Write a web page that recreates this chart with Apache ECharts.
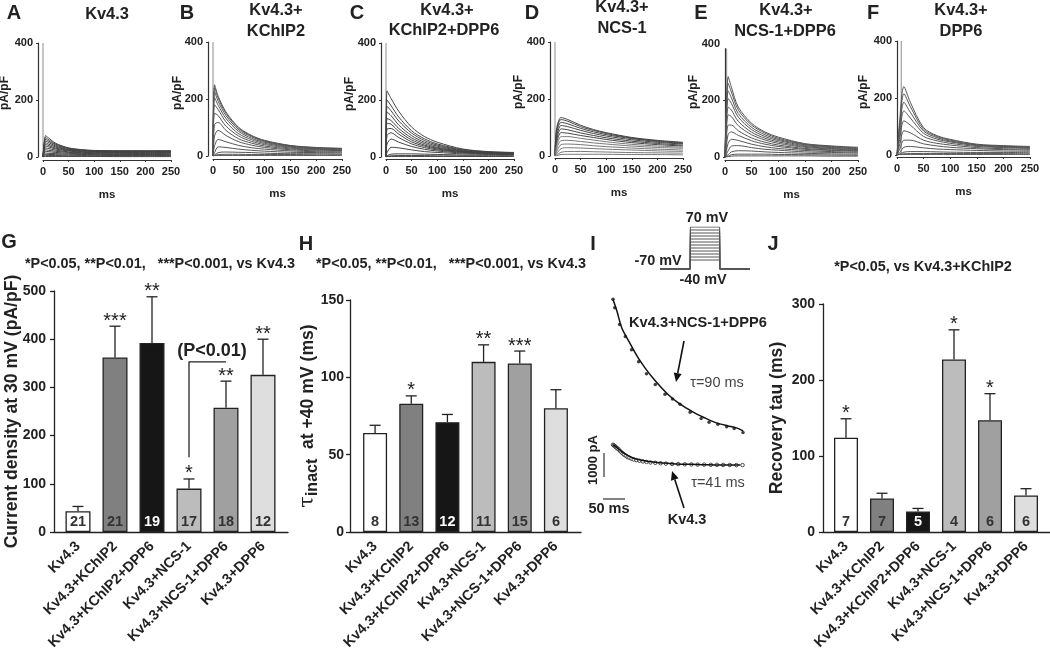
<!DOCTYPE html>
<html>
<head>
<meta charset="utf-8">
<title>Kv4.3 currents</title>
<style>
  html, body { margin: 0; padding: 0; background: #fff; }
  #main { width: 1050px; height: 651px; }
</style>
<script src="https://cdn.jsdelivr.net/npm/echarts@6/dist/echarts.min.js"></script>
</head>
<body>
<div id="main"></div>
<script>
// panel A-F current traces, pA/pF
var timesA = [0, 5, 10, 25, 50, 75, 100, 150, 200, 250];
var tracesA = [
  [0, 75, 68, 48, 32, 26, 23, 22, 22, 22],
  [0, 68, 62, 45, 31, 25, 22, 21, 21, 21],
  [0, 62, 57, 42, 29, 24, 21, 20, 20, 20],
  [0, 56, 52, 38, 27, 22, 20, 19, 19, 19],
  [0, 50, 46, 35, 25, 21, 19, 18, 17, 17],
  [0, 44, 41, 31, 23, 19, 17, 16, 16, 16],
  [0, 38, 36, 28, 21, 17, 15, 15, 14, 14],
  [0, 32, 30, 24, 18, 15, 14, 13, 12, 12],
  [0, 26, 24, 20, 16, 13, 12, 11, 10, 10],
  [0, 20, 19, 16, 13, 11, 10, 9, 9, 8],
  [0, 14, 13, 12, 10, 9, 8, 7, 7, 6],
  [0, 9, 9, 8, 7, 6, 6, 5, 5, 5],
  [0, 5, 5, 5, 4, 4, 3, 3, 3, 3],
  [0, 2, 2, 2, 2, 2, 2, 1, 1, 1]
];
var timesB = [0, 3, 10, 25, 50, 75, 100, 150, 200, 250];
var tracesB = [
  [0, 250, 210, 155, 100, 72, 55, 37, 30, 27],
  [0, 240, 203, 150, 97, 70, 53, 36, 29, 26],
  [0, 225, 192, 142, 92, 67, 51, 35, 28, 25],
  [0, 205, 178, 132, 86, 62, 48, 33, 27, 24],
  [0, 180, 163, 120, 78, 57, 44, 31, 25, 22],
  [0, 150, 142, 105, 70, 51, 40, 28, 23, 21],
  [0, 110, 118, 90, 60, 45, 35, 25, 21, 19],
  [0, 70, 90, 72, 50, 38, 30, 22, 18, 17],
  [0, 35, 58, 50, 37, 29, 24, 18, 15, 14],
  [0, 12, 32, 30, 24, 20, 17, 13, 12, 11],
  [0, 4, 12, 14, 13, 12, 10, 8, 8, 7],
  [0, 2, 5, 6, 6, 5, 5, 5, 4, 4],
  [0, 1, 2, 2, 2, 2, 2, 2, 2, 2]
];
var timesC = [0, 2, 10, 25, 50, 75, 100, 150, 200, 250];
var tracesC = [
  [0, 232, 205, 160, 105, 72, 52, 28, 19, 16],
  [0, 200, 180, 140, 92, 64, 46, 26, 18, 15],
  [0, 178, 162, 126, 84, 58, 42, 24, 17, 14],
  [0, 158, 145, 112, 75, 52, 38, 22, 16, 13],
  [0, 135, 128, 100, 67, 47, 34, 20, 15, 13],
  [0, 118, 115, 90, 60, 42, 31, 19, 14, 12],
  [0, 98, 100, 80, 53, 38, 28, 18, 13, 11],
  [0, 75, 85, 68, 46, 33, 25, 16, 12, 10],
  [0, 45, 63, 52, 37, 27, 21, 14, 11, 9],
  [0, 15, 34, 32, 25, 19, 16, 11, 9, 8],
  [0, 4, 10, 11, 11, 10, 9, 7, 6, 6],
  [0, 2, 4, 5, 5, 5, 4, 4, 3, 3],
  [0, 1, 2, 2, 2, 2, 2, 2, 2, 2]
];
var timesD = [0, 3, 12, 25, 50, 75, 100, 150, 200, 250];
var tracesD = [
  [0, 95, 135, 128, 108, 93, 82, 65, 55, 48],
  [0, 88, 128, 122, 103, 90, 79, 63, 53, 46],
  [0, 78, 118, 113, 97, 85, 75, 61, 51, 44],
  [0, 66, 107, 103, 90, 79, 70, 57, 48, 42],
  [0, 55, 95, 92, 81, 72, 64, 52, 44, 38],
  [0, 44, 82, 80, 72, 65, 58, 47, 40, 35],
  [0, 33, 68, 68, 62, 56, 50, 41, 35, 31],
  [0, 24, 54, 55, 51, 46, 42, 35, 30, 27],
  [0, 15, 40, 42, 40, 36, 33, 28, 24, 21],
  [0, 8, 26, 29, 28, 26, 24, 21, 18, 16],
  [0, 4, 13, 16, 16, 15, 14, 12, 11, 10],
  [0, 1, 5, 6, 6, 6, 6, 5, 5, 4]
];
var timesE = [0, 6, 12, 25, 50, 75, 100, 150, 200, 250];
var tracesE = [
  [0, 282, 245, 175, 118, 88, 70, 47, 39, 34],
  [0, 258, 228, 165, 112, 84, 66, 45, 37, 32],
  [0, 232, 208, 152, 104, 78, 62, 43, 35, 30],
  [0, 205, 188, 140, 96, 72, 58, 40, 33, 28],
  [0, 175, 165, 125, 87, 66, 53, 37, 30, 26],
  [0, 148, 142, 110, 78, 60, 48, 34, 28, 24],
  [0, 112, 112, 92, 67, 52, 42, 30, 25, 22],
  [0, 80, 88, 76, 57, 45, 37, 27, 23, 20],
  [0, 48, 62, 58, 45, 36, 30, 23, 19, 17],
  [0, 22, 38, 40, 33, 27, 24, 18, 16, 14],
  [0, 8, 18, 22, 21, 18, 16, 13, 11, 10],
  [0, 3, 8, 10, 10, 10, 9, 8, 7, 6],
  [0, 1, 3, 4, 4, 4, 4, 4, 3, 3]
];
var timesF = [0, 5, 13, 25, 50, 75, 100, 150, 200, 250];
var tracesF = [
  [0, 120, 240, 185, 96, 68, 55, 38, 33, 30],
  [0, 105, 215, 170, 90, 65, 52, 36, 31, 28],
  [0, 90, 185, 150, 84, 61, 49, 35, 30, 27],
  [0, 72, 155, 130, 76, 56, 46, 33, 28, 25],
  [0, 55, 120, 105, 65, 50, 41, 30, 26, 23],
  [0, 35, 85, 78, 52, 41, 35, 26, 22, 20],
  [0, 20, 52, 52, 39, 32, 27, 22, 19, 17],
  [0, 8, 27, 30, 25, 21, 19, 16, 14, 13],
  [0, 3, 10, 12, 12, 11, 10, 9, 9, 8],
  [0, 2, 4, 5, 5, 5, 5, 5, 5, 4],
  [0, 1, 2, 2, 2, 2, 2, 2, 2, 2]
];

// bar panels
var groups = ['Kv4.3', 'Kv4.3+KChIP2', 'Kv4.3+KChIP2+DPP6', 'Kv4.3+NCS-1', 'Kv4.3+NCS-1+DPP6', 'Kv4.3+DPP6'];
var barColors = ['#ffffff', '#808080', '#161616', '#bcbcbc', '#a0a0a0', '#dedede'];

var densityMeans = [43, 362, 392, 90, 258, 326];
var densityTops = [53, 427, 488, 110, 313, 400];
var densityN = [21, 21, 19, 17, 18, 12];
var densityStars = ['', '***', '**', '*', '**', '**'];
var densityBracket = [[3, 155], [3, 353], [4, 353]];

var inactMeans = [64, 83, 71, 110, 109, 80];
var inactTops = [69, 88, 76, 121, 117, 92];
var inactN = [8, 13, 12, 11, 15, 6];
var inactStars = ['', '*', '', '**', '***', ''];

var recoveryMeans = [124, 44, 27, 227, 147, 48];
var recoveryTops = [149, 51, 31, 266, 182, 57];
var recoveryN = [7, 7, 5, 4, 6, 6];
var recoveryStars = ['*', '', '', '*', '*', ''];

// panel I
var protocolTimes = [0, 30, 59, 89];
var protocolLevels = [-40, -30, -20, -10, 0, 10, 20, 30, 40, 50, 60, 70];
var holdLevel = -70;

var fitUpperT = [0, 9, 20, 36, 55, 73, 92, 111, 130, 149, 167, 186, 205, 223, 242, 261, 280, 295];
var fitUpperV = [7084, 6598, 5903, 5348, 4723, 4236, 3792, 3403, 3056, 2778, 2570, 2361, 2195, 2042, 1917, 1833, 1750, 1625];
var dotsUpperT = [0, 4, 15, 28, 42, 58, 76, 96, 118, 135, 152, 175, 200, 218, 238, 258, 275, 295];
var dotsUpperV = [7100, 6750, 6050, 5550, 5000, 4500, 4000, 3550, 3150, 2950, 2730, 2400, 2140, 1990, 1900, 1800, 1730, 1560];
var fitLowerT = [0, 9, 20, 32, 47, 62, 85, 115, 145, 176, 206, 244, 289];
var fitLowerV = [1042, 931, 764, 625, 486, 417, 347, 292, 250, 236, 222, 208, 208];
var dotsLowerT = [0, 2, 4, 6, 8, 10, 13, 16, 19, 22, 25, 29, 33, 37, 42, 47, 53, 60, 68, 76, 85, 96, 108, 120, 134, 148, 163, 178, 192, 207, 222, 236, 250, 265, 280, 294];
var dotsLowerV = [1050, 1020, 990, 960, 930, 900, 850, 790, 740, 690, 640, 590, 540, 510, 470, 440, 410, 385, 355, 335, 315, 300, 280, 265, 250, 245, 235, 230, 225, 225, 215, 215, 210, 210, 205, 205];

var FONT = '"Liberation Sans", Arial, sans-serif';
var INK = '#222';

var grids = [], xAxes = [], yAxes = [], series = [], graphics = [];

function addGrid(left, top, width, height, xAxis, yAxis) {
  var idx = grids.length;
  // outerBoundsMode none: rotated labels run off the canvas, grid must not shrink for them
  grids.push({ left: left, top: top, width: width, height: height, containLabel: false, outerBoundsMode: 'none' });
  xAxis.gridIndex = idx;
  yAxis.gridIndex = idx;
  xAxes.push(xAxis);
  yAxes.push(yAxis);
  return idx;
}

function txt(text, x, y, size, weight, opts) {
  opts = opts || {};
  graphics.push({
    type: 'text', x: x, y: y, rotation: opts.rotation || 0, silent: true,
    style: {
      text: text, fontFamily: opts.family || FONT, fontSize: size, fontWeight: weight || 'bold',
      fill: opts.color || INK, textAlign: opts.align || 'center', textVerticalAlign: 'middle'
    }
  });
}

// one current-trace panel
function tracePanel(cfg) {
  var yMax = cfg.yMax || 400;
  var pxTop = cfg.y0 - (cfg.y0 - cfg.y400) * yMax / 400;
  var yLabel = { margin: 5, fontFamily: FONT, fontSize: 11, fontWeight: 'bold', color: INK };
  var yTick = { show: true, length: 2, lineStyle: { color: '#333' } };
  if (cfg.yMax) {
    yLabel.customValues = [0, 200];
    yTick.customValues = [0, 200];
  }
  var idx = addGrid(cfg.x0, pxTop, cfg.x250 - cfg.x0, cfg.y0 - pxTop, {
    type: 'value', min: 0, max: 250, interval: 50, offset: cfg.xOffset,
    name: 'ms', nameLocation: 'middle', nameGap: 29, nameMoveOverlap: false,
    nameTextStyle: { fontFamily: FONT, fontSize: 11.5, fontWeight: 'bold', color: INK },
    splitLine: { show: false },
    axisLine: { show: true, onZero: false, lineStyle: { color: '#333', width: 1.2 } },
    axisTick: { show: true, length: 2, lineStyle: { color: '#333' } },
    axisLabel: { margin: 6, fontFamily: FONT, fontSize: 11, fontWeight: 'bold', color: INK, showMinLabel: true, showMaxLabel: true }
  }, {
    type: 'value', min: 0, max: yMax, interval: 200, offset: cfg.yOffset,
    splitLine: { show: false },
    axisLine: { show: true, onZero: false, lineStyle: { color: '#333', width: 1.2 } },
    axisTick: yTick,
    axisLabel: yLabel
  });
  // capacity transient
  series.push({
    type: 'line', xAxisIndex: idx, yAxisIndex: idx, silent: true, showSymbol: false, animation: false,
    data: [[cfg.transient, 0], [cfg.transient, yMax]],
    lineStyle: { color: '#a0a0a0', width: 1.2 }
  });
  cfg.traces.forEach(function (tr, k) {
    series.push({
      type: 'line', xAxisIndex: idx, yAxisIndex: idx, silent: true, showSymbol: false, animation: false,
      smooth: 0.3,
      data: tr.map(function (v, i) { return [cfg.times[i], v]; }),
      lineStyle: { color: cfg.color(k, cfg.traces.length), width: 1 }
    });
  });
  txt('pA/pF', cfg.labelX, cfg.labelY, 12, 'bold', { rotation: Math.PI / 2 });
}

function barPanel(cfg) {
  var h = cfg.y0 - cfg.yTop;
  // frame axes run wider than the bars
  var frame = addGrid(cfg.axisL, cfg.yTop, cfg.axisR - cfg.axisL, h, {
    type: 'value', min: 0, max: 1, axisLabel: { show: false }, axisTick: { show: false },
    splitLine: { show: false }, axisLine: { show: true, onZero: false, lineStyle: { color: INK, width: 1.3 } }
  }, {
    type: 'value', min: 0, max: cfg.max, interval: cfg.interval,
    name: cfg.name, nameLocation: 'middle', nameGap: cfg.nameGap, nameRotate: 90, nameMoveOverlap: false,
    nameTextStyle: cfg.nameStyle || { fontFamily: FONT, fontSize: 17.6, fontWeight: 'bold', color: INK },
    splitLine: { show: false },
    axisLine: { show: true, onZero: false, lineStyle: { color: INK, width: 1.3 } },
    axisTick: { show: true, length: 4, lineStyle: { color: INK, width: 1.3 } },
    axisLabel: { margin: cfg.labelMargin, fontFamily: FONT, fontSize: 14, fontWeight: 'bold', color: INK }
  });
  series.push({ type: 'line', xAxisIndex: frame, yAxisIndex: frame, data: [], silent: true });

  var idx = addGrid(cfg.barL, cfg.yTop, cfg.barR - cfg.barL, h, {
    type: 'category', data: groups,
    axisLine: { show: false }, axisTick: { show: false },
    axisLabel: { interval: 0, rotate: 45, margin: 12, fontFamily: FONT, fontSize: 14.3, fontWeight: 'bold', color: INK }
  }, {
    type: 'value', min: 0, max: cfg.max, show: false
  });
  series.push({
    type: 'bar', xAxisIndex: idx, yAxisIndex: idx, silent: true, animation: false,
    barWidth: cfg.barWidth,
    data: cfg.means.map(function (v, i) {
      return {
        value: v,
        itemStyle: { color: barColors[i], borderColor: INK, borderWidth: 1.3 },
        label: { color: i === 2 ? '#fff' : '#333' }
      };
    }),
    label: {
      show: true, position: 'insideBottom', distance: 3,
      fontFamily: FONT, fontSize: 14.5, fontWeight: 'bold',
      formatter: function (p) { return String(cfg.n[p.dataIndex]); }
    }
  });
  series.push({
    type: 'custom', xAxisIndex: idx, yAxisIndex: idx, silent: true, animation: false,
    data: cfg.tops.map(function (v, i) { return [i, v, cfg.means[i]]; }),
    encode: { x: 0, y: 1 },
    renderItem: function (params, api) {
      var top = api.coord([api.value(0), api.value(1)]);
      var base = api.coord([api.value(0), api.value(2)]);
      var style = { stroke: INK, lineWidth: 1.3, fill: null };
      var kids = [
        { type: 'line', shape: { x1: top[0], y1: top[1], x2: base[0], y2: base[1] }, style: style },
        { type: 'line', shape: { x1: top[0] - 5.5, y1: top[1], x2: top[0] + 5.5, y2: top[1] }, style: style }
      ];
      var stars = cfg.stars[params.dataIndex];
      if (stars) {
        kids.push({
          type: 'text', x: top[0], y: top[1] - 5,
          style: { text: stars, fontFamily: FONT, fontSize: 20, fill: INK, textAlign: 'center', textVerticalAlign: 'middle' }
        });
      }
      return { type: 'group', children: kids };
    }
  });
  return idx;
}

// ---- top row
function midTraces() { return '#555'; }
function darkTraces() { return '#444'; }
tracePanel({ x0: 43, x250: 171, y400: 43, y0: 157, xOffset: 3, yOffset: 5, times: timesA, traces: tracesA, transient: 0, labelX: 5, labelY: 93, color: darkTraces });
tracePanel({ x0: 213, x250: 342, y400: 42, y0: 156, xOffset: 3, yOffset: 5, times: timesB, traces: tracesB, transient: 0, labelX: 178, labelY: 93, color: midTraces });
tracePanel({ x0: 386, x250: 514, y400: 43, y0: 157, xOffset: 2, yOffset: 5, times: timesC, traces: tracesC, transient: 0, labelX: 350, labelY: 94, color: darkTraces });
tracePanel({ x0: 555, x250: 683, y400: 42, y0: 156, xOffset: 2, yOffset: 5, times: timesD, traces: tracesD, transient: 0, labelX: 519, labelY: 92, color: function (k, n) { return k < n / 2 ? '#444' : '#777'; } });
// the axis of panel E stops short of its 400 label
tracePanel({ x0: 725, x250: 858, y400: 43, y0: 157, yMax: 380, xOffset: 3, yOffset: 0, times: timesE, traces: tracesE, transient: 3, labelX: 694, labelY: 92, color: midTraces });
txt('400', 720, 44, 11, 'bold', { align: 'right' });
tracePanel({ x0: 897, x250: 1030, y400: 41, y0: 155, xOffset: 2, yOffset: 0, times: timesF, traces: tracesF, transient: 8, labelX: 864, labelY: 92, color: midTraces });

// ---- bar charts
var densityIdx = barPanel({
  axisL: 54, axisR: 288, barL: 59.5, barR: 281.5, yTop: 291, y0: 532, max: 500, interval: 100, barWidth: 25, labelMargin: 8,
  name: 'Current density at 30 mV (pA/pF)', nameGap: 33,
  means: densityMeans, tops: densityTops, n: densityN, stars: densityStars
});
series.push({
  type: 'line', xAxisIndex: densityIdx, yAxisIndex: densityIdx, silent: true, showSymbol: false, animation: false,
  data: densityBracket, lineStyle: { color: INK, width: 1.3 }
});

barPanel({
  axisL: 350, axisR: 581, barL: 357, barR: 574, yTop: 300, y0: 532, max: 150, interval: 50, barWidth: 24, labelMargin: 6,
  name: '{t|τ}{s|inact}{r|  at +40 mV (ms)}', nameGap: 29,
  nameStyle: {
    color: INK, fontFamily: FONT, fontWeight: 'bold', fontSize: 17.6,
    rich: {
      t: { fontFamily: '"DejaVu Serif", serif', fontSize: 21, fontWeight: 'normal', color: INK },
      s: { fontFamily: FONT, fontSize: 16, fontWeight: 'bold', color: INK, padding: [10, 0, 0, 0] },
      r: { fontFamily: FONT, fontSize: 17.6, fontWeight: 'bold', color: INK }
    }
  },
  means: inactMeans, tops: inactTops, n: inactN, stars: inactStars
});

barPanel({
  axisL: 823, axisR: 1050, barL: 828, barR: 1044, yTop: 304, y0: 532, max: 300, interval: 100, barWidth: 24, labelMargin: 8,
  name: 'Recovery tau (ms)', nameGap: 37,
  means: recoveryMeans, tops: recoveryTops, n: recoveryN, stars: recoveryStars
});

// ---- panel I, voltage protocol and recovery traces
var protoIdx = addGrid(660, 227, 90, 42,
  { type: 'value', min: 0, max: 89, show: false },
  { type: 'value', min: -70, max: 70, show: false });
protocolLevels.forEach(function (lv) {
  series.push({
    type: 'line', xAxisIndex: protoIdx, yAxisIndex: protoIdx, silent: true, showSymbol: false, animation: false,
    data: [
      [protocolTimes[0], holdLevel], [protocolTimes[1], holdLevel], [protocolTimes[1], lv],
      [protocolTimes[2], lv], [protocolTimes[2], holdLevel], [protocolTimes[3], holdLevel]
    ],
    lineStyle: { color: '#555', width: 1 }
  });
});

var recIdx = addGrid(613, 292, 130, 178,
  { type: 'value', min: 0, max: 295, show: false },
  { type: 'value', min: 0, max: 7400, show: false });
function pairs(a, b) { return a.map(function (v, i) { return [v, b[i]]; }); }
function recLine(xs, ys) {
  series.push({
    type: 'line', xAxisIndex: recIdx, yAxisIndex: recIdx, silent: true, showSymbol: false, animation: false,
    smooth: 0.3, data: pairs(xs, ys), lineStyle: { color: '#111', width: 1.5 }
  });
}
recLine(fitUpperT, fitUpperV);
recLine(fitLowerT, fitLowerV);
series.push({
  type: 'scatter', xAxisIndex: recIdx, yAxisIndex: recIdx, silent: true, animation: false,
  data: pairs(dotsUpperT, dotsUpperV), symbolSize: 3.5, itemStyle: { color: '#111' }
});
series.push({
  type: 'scatter', xAxisIndex: recIdx, yAxisIndex: recIdx, silent: true, animation: false,
  data: pairs(dotsLowerT, dotsLowerV), symbolSize: 3.5,
  itemStyle: { color: '#fff', borderColor: '#222', borderWidth: 1 }
});

function arrow(x1, y1, x2, y2) {
  var a = Math.atan2(y2 - y1, x2 - x1), L = 9, W = 4;
  var bx = x2 - L * Math.cos(a), by = y2 - L * Math.sin(a);
  graphics.push({ type: 'line', silent: true, shape: { x1: x1, y1: y1, x2: bx, y2: by }, style: { stroke: '#111', lineWidth: 1.6 } });
  graphics.push({
    type: 'polygon', silent: true,
    shape: { points: [[x2, y2], [bx - W * Math.sin(a), by + W * Math.cos(a)], [bx + W * Math.sin(a), by - W * Math.cos(a)]] },
    style: { fill: '#111' }
  });
}
arrow(684, 341, 676, 382);
arrow(684, 508, 672, 471);
// scale bars
graphics.push({ type: 'line', silent: true, shape: { x1: 604, y1: 453, x2: 604, y2: 477 }, style: { stroke: '#333', lineWidth: 1.2 } });
graphics.push({ type: 'line', silent: true, shape: { x1: 603, y1: 499, x2: 625, y2: 499 }, style: { stroke: '#333', lineWidth: 1.2 } });

txt('70 mV', 707, 218, 14.4);
txt('-70 mV', 658, 261, 14.4);
txt('-40 mV', 703, 280, 14.4);
txt('Kv4.3+NCS-1+DPP6', 698, 323, 14.6);
txt('\u03C4=90 ms', 717, 383, 14.5, 'normal', { color: '#444', family: '"Liberation Sans", "DejaVu Sans", sans-serif' });
txt('\u03C4=41 ms', 718, 483, 14.5, 'normal', { color: '#444', family: '"Liberation Sans", "DejaVu Sans", sans-serif' });
txt('Kv4.3', 687, 520, 14.5);
txt('1000 pA', 593, 460, 13, 'bold', { rotation: Math.PI / 2 });
txt('50 ms', 609, 509, 14.5);

// ---- panel letters, headings
[['A', 14, 13], ['B', 187, 13], ['C', 357, 13], ['D', 532, 13], ['E', 701, 13], ['F', 873, 13],
 ['G', 9, 242], ['H', 306, 244], ['I', 593, 244], ['J', 773, 244]].forEach(function (d) {
  txt(d[0], d[1], d[2], 20);
});
txt('Kv4.3', 107, 14, 16.4);
txt('Kv4.3+', 276, 10, 16.4);
txt('KChIP2', 276, 31, 16.4);
txt('Kv4.3+', 447, 10, 16.4);
txt('KChIP2+DPP6', 444, 30, 16.4);
txt('Kv4.3+', 622, 7, 16.4);
txt('NCS-1', 622, 28, 16.4);
txt('Kv4.3+', 786, 10, 16.4);
txt('NCS-1+DPP6', 785, 31, 16.4);
txt('Kv4.3+', 961, 10, 16.4);
txt('DPP6', 961, 31, 16.4);
txt('*P<0.05, **P<0.01,   ***P<0.001, vs Kv4.3', 160, 264, 14.4);
txt('*P<0.05, **P<0.01,   ***P<0.001, vs Kv4.3', 451, 264, 14.4);
txt('*P<0.05, vs Kv4.3+KChIP2', 923, 267, 14.4);
txt('(P<0.01)', 212, 351, 18);

var myChart = echarts.init(document.getElementById('main'), null, { renderer: 'canvas' });
myChart.setOption({
  animation: false,
  backgroundColor: '#fff',
  textStyle: { fontFamily: FONT },
  grid: grids,
  xAxis: xAxes,
  yAxis: yAxes,
  series: series,
  graphic: { elements: graphics }
});
</script>
</body>
</html>
